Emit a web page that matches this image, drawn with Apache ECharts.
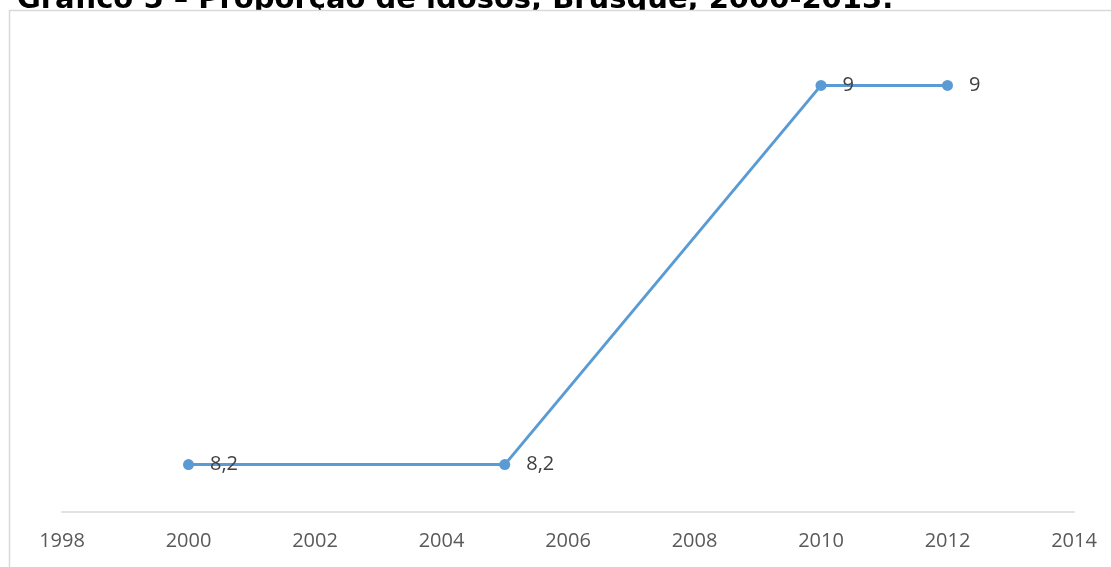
<!DOCTYPE html>
<html>
<head>
<meta charset="utf-8">
<title>Proporção de idosos, Brusque</title>
<script src="https://cdn.jsdelivr.net/npm/echarts@6/dist/echarts.min.js"></script>
<style>
  html, body { margin: 0; padding: 0; background: #ffffff; }
  #chart { width: 1111px; height: 567px; }
</style>
</head>
<body>
<div id="chart"></div>
<script>
// Proporção de idosos (%) em Brusque por ano
const anos = [2000, 2005, 2010, 2012];
const proporcao = [8.2, 8.2, 9, 9];
const anoTicks = [1998, 2000, 2002, 2004, 2006, 2008, 2010, 2012, 2014];
const titulo = 'Gráfico 5 – Proporção de idosos, Brusque, 2000-2013.';

const chart = echarts.init(document.getElementById('chart'), null, { renderer: 'canvas' });

const option = {
  backgroundColor: '#ffffff',
  animation: false,
  graphic: [
    {
      // page heading, partly hidden behind the chart frame
      type: 'text',
      silent: true,
      z: -10,
      x: 17,
      y: -14,
      style: {
        text: titulo,
        fill: '#000000',
        font: 'bold 29px "DejaVu Sans", Verdana, sans-serif',
        verticalAlign: 'top'
      }
    },
    {
      // chart frame with white fill
      type: 'rect',
      silent: true,
      z: -5,
      shape: { x: 9.5, y: 10.5, width: 1300, height: 800 },
      style: { fill: '#ffffff', stroke: '#d9d9d9', lineWidth: 1.5 }
    }
  ],
  grid: { left: 62, right: 37, top: 38, bottom: 55, containLabel: false },
  xAxis: {
    type: 'value',
    min: anoTicks[0],
    max: anoTicks[anoTicks.length - 1],
    interval: 2,
    axisLine: { show: true, lineStyle: { color: '#d9d9d9', width: 1.5 } },
    axisTick: { show: false },
    splitLine: { show: false },
    axisLabel: {
      margin: 19,
      color: '#595959',
      fontSize: 20,
      fontFamily: '"Open Sans", sans-serif',
      formatter: v => String(v)
    }
  },
  yAxis: {
    type: 'value',
    min: 8.1,
    max: 9.1,
    show: false,
    splitLine: { show: false }
  },
  series: [
    {
      type: 'line',
      data: anos.map((a, i) => [a, proporcao[i]]),
      symbol: 'circle',
      symbolSize: 11,
      lineStyle: { color: '#5b9bd5', width: 3 },
      itemStyle: { color: '#5b9bd5' },
      label: {
        show: true,
        position: 'right',
        distance: 16,
        color: '#404040',
        fontSize: 20,
        fontFamily: '"Open Sans", sans-serif',
        formatter: p => String(p.value[1]).replace('.', ',')
      }
    }
  ]
};

chart.setOption(option);
</script>
</body>
</html>
